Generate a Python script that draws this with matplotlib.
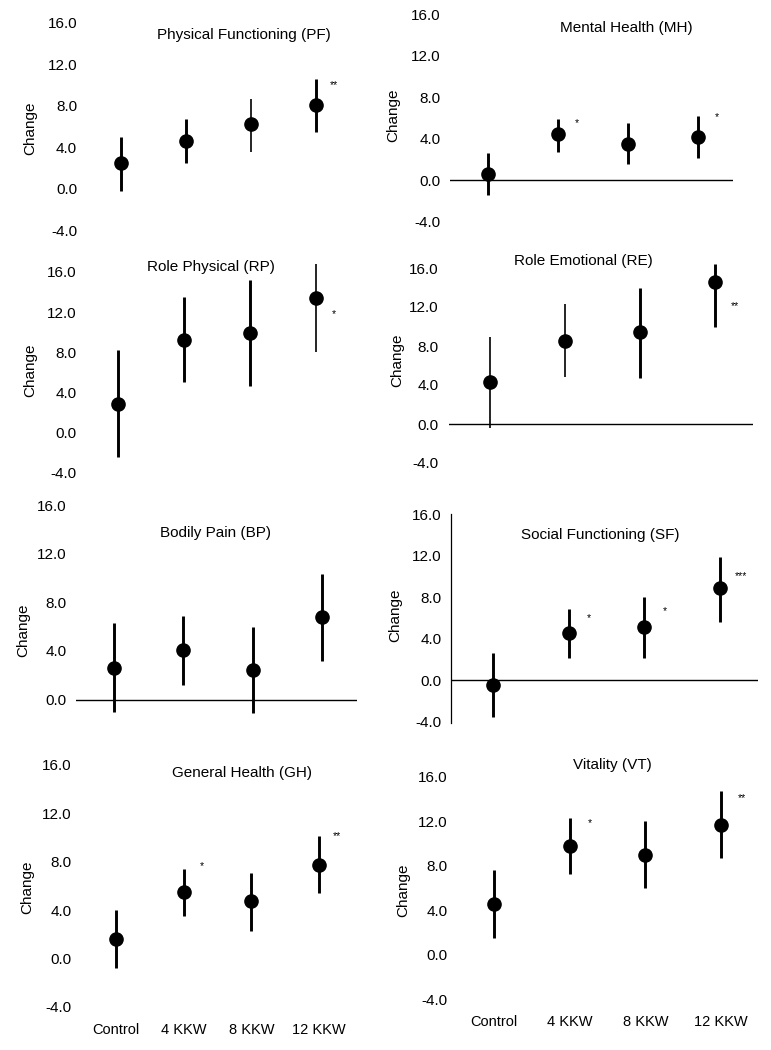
import matplotlib
matplotlib.use('Agg')
import matplotlib.pyplot as plt

plt.rcParams['font.family'] = ['Liberation Sans', 'DejaVu Sans']
plt.rcParams['axes.unicode_minus'] = False

W, H = 771, 1050

# ---------------- data ----------------
groups = ["Control", "4 KKW", "8 KKW", "12 KKW"]

titles = ["Physical Functioning (PF)", "Mental Health (MH)",
          "Role Physical (RP)", "Role Emotional (RE)",
          "Bodily Pain (BP)", "Social Functioning (SF)",
          "General Health (GH)", "Vitality (VT)"]

pf_mean = [2.5, 4.6, 6.25, 8.1]
pf_low = [-0.2, 2.5, 3.6, 5.45]
pf_high = [5.0, 6.7, 8.7, 10.6]

mh_mean = [0.6, 4.4, 3.5, 4.2]
mh_low = [-1.45, 2.7, 1.5, 2.1]
mh_high = [2.6, 5.9, 5.5, 6.2]

rp_mean = [2.8, 9.2, 9.9, 13.4]
rp_low = [-2.5, 5.0, 4.6, 8.0]
rp_high = [8.2, 13.5, 15.2, 16.8]

re_mean = [4.3, 8.55, 9.4, 14.6]
re_low = [-0.45, 4.85, 4.75, 9.9]
re_high = [8.9, 12.3, 14.0, 16.4]

bp_mean = [2.6, 4.1, 2.4, 6.8]
bp_low = [-1.0, 1.2, -1.15, 3.2]
bp_high = [6.3, 6.9, 6.0, 10.35]

sf_mean = [-0.5, 4.5, 5.1, 8.85]
sf_low = [-3.55, 2.1, 2.1, 5.6]
sf_high = [2.6, 6.9, 8.05, 11.9]

gh_mean = [1.6, 5.5, 4.75, 7.7]
gh_low = [-0.8, 3.5, 2.3, 5.4]
gh_high = [4.0, 7.4, 7.1, 10.1]

vt_mean = [4.6, 9.8, 9.0, 11.7]
vt_low = [1.55, 7.3, 6.0, 8.7]
vt_high = [7.6, 12.3, 12.0, 14.7]

# significance marks and the height they sit at
pf_sig = ["", "", "", "**"]
pf_sig_y = [None, None, None, 10.0]
mh_sig = ["", "*", "", "*"]
mh_sig_y = [None, 5.5, None, 6.05]
rp_sig = ["", "", "", "*"]
rp_sig_y = [None, None, None, 11.8]
re_sig = ["", "", "", "**"]
re_sig_y = [None, None, None, 12.1]
bp_sig = ["", "", "", ""]
bp_sig_y = [None, None, None, None]
sf_sig = ["", "*", "*", "***"]
sf_sig_y = [None, 6.0, 6.65, 10.05]
gh_sig = ["", "*", "", "**"]
gh_sig_y = [None, 7.65, None, 10.1]
vt_sig = ["", "*", "", "**"]
vt_sig_y = [None, 11.8, None, 14.05]

panels = [
    (pf_mean, pf_low, pf_high, pf_sig, pf_sig_y),
    (mh_mean, mh_low, mh_high, mh_sig, mh_sig_y),
    (rp_mean, rp_low, rp_high, rp_sig, rp_sig_y),
    (re_mean, re_low, re_high, re_sig, re_sig_y),
    (bp_mean, bp_low, bp_high, bp_sig, bp_sig_y),
    (sf_mean, sf_low, sf_high, sf_sig, sf_sig_y),
    (gh_mean, gh_low, gh_high, gh_sig, gh_sig_y),
    (vt_mean, vt_low, vt_high, vt_sig, vt_sig_y),
]

# ---------------- layout (pixels) ----------------
# x of Control, spacing, y of zero, px per unit, y-lower limit, tick pad
layout = [
    (121, 65.0, 189.0, 10.4, -5.0, 8),
    (488, 70.0, 180.0, 10.35, -5.0, 9),
    (118, 66.0, 432.0, 10.0, -5.0, 5),
    (490, 75.0, 424.0, 9.75, -5.0, 10),
    (114, 69.3, 699.5, 12.15, -1.8, 9),
    (493, 75.7, 680.0, 10.35, -5.0, 10),
    (116, 67.7, 958.5, 12.1, -5.0, 7),
    (494, 75.7, 955.0, 11.15, -5.0, 5),
]
title_pos = [(244, 35), (626, 28), (211, 267), (583, 261),
             (216, 533), (600, 535), (242, 773), (612, 765)]
ylabel_pos = [(30, 128), (393, 115), (30, 370), (397, 360),
              (23, 630), (395, 615), (27, 887), (403, 890)]
zero_line = [False, True, False, True, True, True, False, False]
thin_bars = {(0, 2), (2, 3), (3, 0), (3, 1)}
Y_HI = 17.3

fig = plt.figure(figsize=(W / 100, H / 100), dpi=100)
fig.patch.set_facecolor('white')

for k, (mean, low, high, sig, sig_y) in enumerate(panels):
    x0, dx, y0, s, y_lo, pad = layout[k]
    left = x0 - 0.55 * dx
    right = x0 + 3.5 * dx
    top = y0 - Y_HI * s
    bottom = y0 - y_lo * s
    ax = fig.add_axes([left / W, 1 - bottom / H, (right - left) / W, (bottom - top) / H])
    ax.set_xlim(-0.55, 3.5)
    ax.set_ylim(y_lo, Y_HI)

    xs = list(range(len(groups)))
    for i in xs:
        lw = 1.2 if (k, i) in thin_bars else 2.1
        ax.vlines(i, low[i], high[i], color='black', linewidth=lw, zorder=2)
    ax.plot(xs, mean, 'o', color='black', markersize=9.5, linestyle='none', zorder=3)

    for i, lab in enumerate(sig):
        if lab:
            ax.text(i + 0.27, sig_y[i], lab, ha='center', va='center',
                    fontsize=7.5, color='black')

    if zero_line[k]:
        ax.axhline(0, color='black', linewidth=1.0, zorder=1)

    for sp in ax.spines.values():
        sp.set_visible(False)
    if k == 5:
        ax.spines['left'].set_visible(True)
        ax.spines['left'].set_linewidth(0.9)
        ax.spines['left'].set_bounds(-4.2, 16)

    yt = [-4, 0, 4, 8, 12, 16] if y_lo <= -4 else [0, 4, 8, 12, 16]
    ax.set_yticks(yt)
    ax.set_yticklabels([f"{v:.1f}" for v in yt])
    ax.tick_params(axis='y', length=0, pad=pad * 0.72, labelsize=11)

    ax.set_xticks(xs)
    if k >= 6:
        ax.set_xticklabels(groups)
        ax.tick_params(axis='x', length=0, pad=3, labelsize=10.5)
    else:
        ax.set_xticklabels([])
        ax.tick_params(axis='x', length=0)

    tx, ty = title_pos[k]
    fig.text(tx / W, 1 - ty / H, titles[k], ha='center', va='center', fontsize=11)
    lx, ly = ylabel_pos[k]
    fig.text(lx / W, 1 - ly / H, "Change", ha='center', va='center',
             rotation=90, fontsize=11)

fig.savefig('out.png', dpi=100, facecolor='white')
plt.close(fig)
